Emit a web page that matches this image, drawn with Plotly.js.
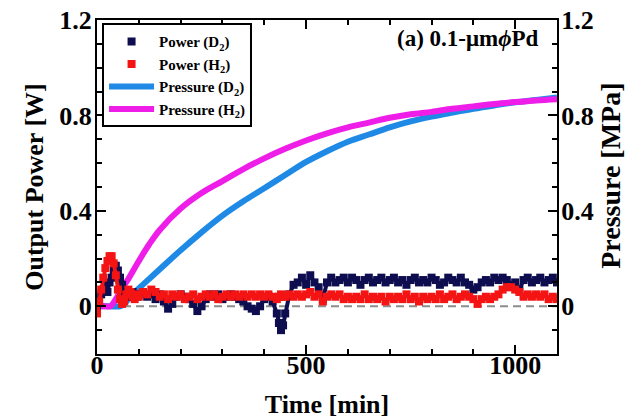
<!DOCTYPE html>
<html>
<head>
<meta charset="utf-8">
<script src="https://cdn.plot.ly/plotly-3.0.1.min.js"></script>
<style>html,body{margin:0;padding:0;background:#fff;}#chart{width:633px;height:419px;}</style>
</head>
<body>
<div id="chart"></div>
<script>
// Time axis for output power samples [min]
const tPower = [0,5,10,15,20,25,30,35,40,45,50,55,60,65,70,75,80,85,90,95,
  100,110,120,130,140,150,160,170,180,190,
  200,210,220,230,240,250,260,270,280,290,
  300,310,320,330,340,350,360,370,380,390,
  400,410,420,430,435,440,445,450,460,470,480,490,
  500,510,520,530,540,550,560,570,580,590,
  600,610,620,630,640,650,660,670,680,690,
  700,710,720,730,740,750,760,770,780,790,
  800,810,820,830,840,850,860,870,880,890,
  900,910,920,930,940,950,960,970,980,990,
  1000,1010,1020,1030,1040,1050,1060,1070,1080,1090,1100];
// Output power, D2 [W]
const powerD2 = [0.00,0.02,0.05,0.07,0.09,0.06,0.10,0.12,0.15,0.17,0.15,0.12,0.09,0.06,0.04,0.05,0.04,0.06,0.05,0.04,
  0.05,0.06,0.04,0.05,0.03,0.05,0.02,-0.01,0.01,0.04,
  0.05,0.04,0.03,0.01,-0.02,0.00,0.03,0.05,0.04,0.05,
  0.03,0.04,0.05,0.04,0.03,0.02,0.00,-0.01,-0.02,0.00,
  0.03,0.04,0.02,-0.03,-0.07,-0.10,-0.08,-0.03,0.05,0.09,0.10,0.12,
  0.09,0.13,0.10,0.08,0.03,0.10,0.12,0.10,0.11,0.12,
  0.10,0.12,0.11,0.09,0.11,0.12,0.10,0.11,0.12,0.10,
  0.11,0.12,0.10,0.11,0.09,0.11,0.12,0.10,0.11,0.10,
  0.12,0.11,0.09,0.10,0.12,0.11,0.10,0.12,0.10,0.09,
  0.07,0.08,0.10,0.11,0.10,0.12,0.11,0.12,0.11,0.09,
  0.10,0.07,0.11,0.12,0.10,0.11,0.12,0.10,0.11,0.12,0.10];
// Output power, H2 [W]
const powerH2 = [-0.03,0.02,0.07,0.12,0.16,0.19,0.21,0.21,0.18,0.13,0.07,0.03,0.01,0.02,0.05,0.07,0.06,0.04,0.03,0.05,
  0.04,0.06,0.05,0.07,0.06,0.04,0.05,0.03,0.05,0.04,
  0.05,0.03,0.04,0.05,0.03,0.04,0.05,0.04,0.05,0.03,
  0.04,0.05,0.04,0.05,0.04,0.05,0.04,0.05,0.04,0.05,
  0.04,0.05,0.04,0.03,0.04,0.05,0.04,0.04,0.05,0.04,0.05,0.04,
  0.05,0.06,0.04,0.05,0.02,0.04,0.05,0.04,0.05,0.03,
  0.04,0.03,0.04,0.03,0.05,0.03,0.04,0.03,0.04,0.02,
  0.04,0.03,0.04,0.03,0.05,0.03,0.04,0.02,0.04,0.03,
  0.04,0.03,0.05,0.03,0.04,0.05,0.03,0.04,0.05,0.04,
  0.03,0.01,0.03,0.04,0.03,0.04,0.05,0.07,0.08,0.08,
  0.07,0.06,0.04,0.05,0.04,0.05,0.04,0.05,0.03,0.04,0.03];
// Pressure, D2 [MPa]
const tPressD2 = [0,30,55,65,80,100,125,150,200,250,300,350,400,450,500,550,600,650,700,750,800,850,900,950,1000,1050,1100];
const pressD2 = [0,0,0,0.01,0.04,0.075,0.115,0.155,0.235,0.31,0.38,0.44,0.495,0.55,0.605,0.65,0.69,0.72,0.75,0.775,0.795,0.812,0.828,0.842,0.855,0.865,0.875];
// Pressure, H2 [MPa]
const tPressH2 = [0,20,32,45,60,75,100,125,150,200,250,300,350,400,450,500,550,600,650,700,750,800,850,900,950,1000,1050,1100];
const pressH2 = [0,0,0,0.03,0.075,0.115,0.19,0.26,0.32,0.41,0.475,0.525,0.575,0.62,0.66,0.695,0.725,0.75,0.77,0.79,0.805,0.815,0.828,0.838,0.848,0.856,0.863,0.868];

const FONT = "Liberation Serif, Times New Roman, serif";
const NAVY = '#0d0d4f', RED = '#f41414';

const traces = [
  {x: tPressD2, y: pressD2, mode: 'lines', name: 'Pressure (D<sub>2</sub>)', legendrank: 3,
   line: {color: '#1f8ae6', width: 6, shape: 'spline'}, hoverinfo: 'skip'},
  {x: tPressH2, y: pressH2, mode: 'lines', name: 'Pressure (H<sub>2</sub>)', legendrank: 4,
   line: {color: '#ee1ee8', width: 6, shape: 'spline'}, hoverinfo: 'skip'},
  {x: tPower, y: powerD2, mode: 'lines', showlegend: false, line: {color: NAVY, width: 4}, hoverinfo: 'skip'},
  {x: tPower, y: powerD2, mode: 'markers', name: 'Power (D<sub>2</sub>)', legendrank: 1,
   marker: {color: NAVY, size: 8, symbol: 'square'}, hoverinfo: 'skip'},
  {x: tPower, y: powerH2, mode: 'lines', showlegend: false, line: {color: RED, width: 4}, hoverinfo: 'skip'},
  {x: tPower, y: powerH2, mode: 'markers', name: 'Power (H<sub>2</sub>)', legendrank: 2,
   marker: {color: RED, size: 8, symbol: 'square'}, hoverinfo: 'skip'},
  {x: [], y: [], yaxis: 'y2', showlegend: false, hoverinfo: 'skip', mode: 'markers'}
];

const tickFont = {family: FONT, size: 26, color: '#000', weight: 'bold'};
const titleFont = {family: FONT, size: 26, color: '#000', weight: 'bold'};

const layout = {
  width: 633, height: 419,
  margin: {l: 97, r: 76, t: 20, b: 65},
  paper_bgcolor: '#fff', plot_bgcolor: '#fff',
  showlegend: true,
  legend: {x: 0.011, y: 0.99, xanchor: 'left', yanchor: 'top',
    bgcolor: '#fff', bordercolor: '#000', borderwidth: 2,
    font: {family: FONT, size: 15, color: '#000', weight: 'bold'}, itemwidth: 45, tracegroupgap: 0},
  xaxis: {range: [0, 1100], tick0: 0, dtick: 500, ticks: 'inside', ticklen: 9, tickwidth: 2,
    tickcolor: '#000', showline: true, linecolor: '#000', linewidth: 2, mirror: 'ticks',
    showgrid: false, zeroline: false, tickfont: tickFont, ticklabelstandoff: -13,
    minor: {dtick: 100, ticks: 'inside', ticklen: 5, tickwidth: 2, tickcolor: '#000', showgrid: false},
    title: {text: 'Time [min]', font: titleFont, standoff: 18}},
  yaxis: {range: [-0.2, 1.2], tick0: 0, dtick: 0.4, ticks: 'inside', ticklen: 9, tickwidth: 2,
    tickcolor: '#000', showline: true, linecolor: '#000', linewidth: 2, mirror: false,
    showgrid: false, zeroline: false, tickfont: tickFont, ticklabelstandoff: -2,
    minor: {dtick: 0.1, ticks: 'inside', ticklen: 5, tickwidth: 2, tickcolor: '#000', showgrid: false},
    title: {text: 'Output Power [W]', font: titleFont, standoff: 8}},
  yaxis2: {range: [-0.2, 1.2], tick0: 0, dtick: 0.4, overlaying: 'y', side: 'right', anchor: 'x',
    ticks: 'inside', ticklen: 9, tickwidth: 2, tickcolor: '#000', ticklabelstandoff: -3,
    showline: true, linecolor: '#000', linewidth: 2, showgrid: false, zeroline: false, tickfont: tickFont,
    minor: {dtick: 0.1, ticks: 'inside', ticklen: 5, tickwidth: 2, tickcolor: '#000', showgrid: false}},
  shapes: [{type: 'line', xref: 'x', yref: 'y', x0: 0, x1: 1100, y0: 0, y1: 0, layer: 'below',
    line: {color: '#8c8c8c', width: 2, dash: '8px,5px'}}],
  annotations: [
    {xref: 'paper', yref: 'paper', x: 0.965, y: 0.945, xanchor: 'right', yanchor: 'middle',
     showarrow: false, text: '(a) 0.1-μm<i>ϕ</i>Pd',
     font: {family: FONT, size: 23, color: '#000', weight: 'bold'}},
    {xref: 'paper', yref: 'paper', x: 1.117, y: 0.533, xanchor: 'center', yanchor: 'middle',
     textangle: -90, showarrow: false, text: 'Pressure [MPa]',
     font: {family: FONT, size: 28, color: '#000', weight: 'bold'}}
  ]
};

Plotly.newPlot('chart', traces, layout, {displayModeBar: false, staticPlot: true});
</script>
</body>
</html>
